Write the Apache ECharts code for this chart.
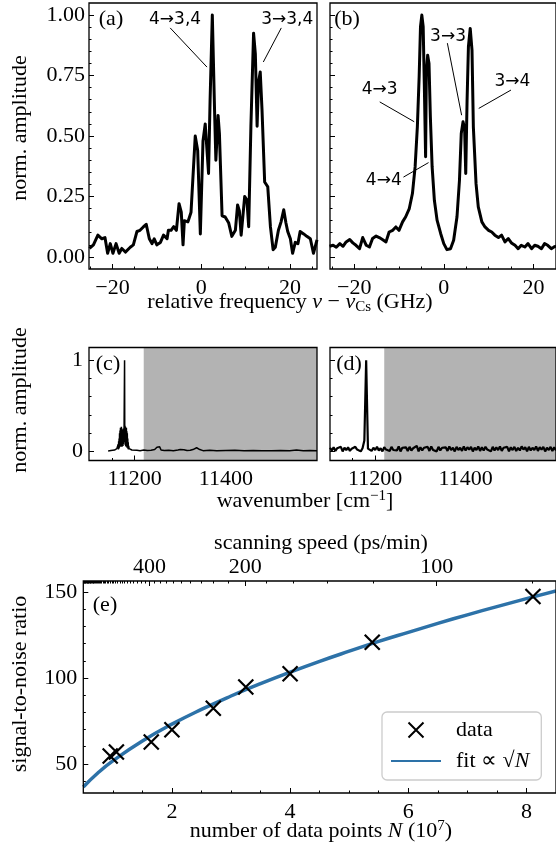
<!DOCTYPE html>
<html><head><meta charset="utf-8">
<script src="https://cdn.jsdelivr.net/npm/echarts@6/dist/echarts.min.js"></script>
<style>html,body{margin:0;padding:0;background:#fff}#c{width:556px;height:846px}</style>
</head><body><div id="c"></div>
<script>
// ---------------- data ----------------
// panel (a)
const freqA = [-25.2,-24.3,-23.3,-22.4,-21.7,-21.1,-20.5,-19.9,-19.2,-18.5,
  -17.9,-17.1,-16.0,-15.3,-14.5,-13.8,-13.0,-12.4,-11.7,-11.1,
  -10.6,-10.0,-9.2,-8.5,-7.7,-7.4,-6.8,-6.2,-5.6,-5.0,
  -4.5,-4.1,-3.8,-3.0,-2.3,-1.35,-0.8,-0.2,0.4,0.9,
  1.3,1.65,2.0,2.5,3.0,3.3,3.8,4.1,4.7,5.4,
  6.2,6.9,7.7,8.2,8.6,9.0,9.8,10.3,10.7,11.2,
  11.8,12.2,12.6,12.9,13.3,13.7,14.3,15.0,15.6,16.2,
  16.7,17.4,18.0,18.6,19.1,19.5,20.1,20.6,21.2,21.8,
  22.3,23.1,23.8,24.6,25.3,26.1];
const ampA = [0.035,0.05,0.09,0.075,0.08,0.015,0.055,0.015,0.055,0.015,
  0.035,0.02,0.04,0.05,0.105,0.11,0.125,0.135,0.075,0.055,
  0.075,0.05,0.06,0.09,0.075,0.11,0.11,0.125,0.11,0.22,
  0.185,0.05,0.15,0.145,0.185,0.50,0.44,0.095,0.48,0.55,
  0.545,0.345,0.65,1.00,0.61,0.40,0.585,0.51,0.17,0.165,
  0.14,0.085,0.11,0.215,0.19,0.09,0.25,0.235,0.125,0.54,
  0.925,0.84,0.54,0.72,0.765,0.61,0.31,0.29,0.125,0.03,
  0.04,0.11,0.145,0.195,0.14,0.105,0.075,0.015,0.06,0.055,
  0.105,0.095,0.085,0.075,0.015,0.07];
// panel (b)
const freqB = [-25.5,-24.7,-24.0,-23.2,-22.5,-21.8,-21.0,-20.3,-19.6,-18.8,
  -18.1,-17.3,-16.6,-15.9,-15.1,-14.4,-13.7,-12.9,-12.2,-11.4,
  -10.7,-10.0,-9.2,-8.5,-7.7,-7.0,-6.4,-5.9,-5.5,-5.2,
  -4.9,-4.6,-4.35,-4.06,-3.9,-3.6,-3.3,-3.0,-2.6,-2.1,
  -1.5,-0.7,0.0,0.7,1.5,2.2,2.95,3.5,3.9,4.3,
  4.65,4.9,5.2,5.5,5.9,6.3,6.6,7.2,7.7,8.5,
  9.2,10.0,10.7,11.4,12.2,12.9,13.65,14.4,15.1,15.9,
  16.6,17.3,18.1,18.8,19.6,20.3,21.0,21.8,22.5,23.2,
  24.0,24.6,25.1];
const ampB = [0.044,0.048,0.04,0.055,0.044,0.062,0.072,0.058,0.048,0.034,
  0.08,0.048,0.041,0.076,0.086,0.08,0.072,0.062,0.103,0.11,
  0.124,0.11,0.145,0.166,0.2,0.262,0.372,0.538,0.745,0.952,
  1.00,0.952,0.717,0.414,0.76,0.834,0.80,0.58,0.372,0.234,
  0.152,0.097,0.055,0.03,0.034,0.069,0.166,0.317,0.51,0.559,
  0.531,0.345,0.648,0.869,0.945,0.855,0.538,0.303,0.207,0.145,
  0.124,0.11,0.103,0.09,0.08,0.09,0.062,0.076,0.058,0.048,
  0.034,0.048,0.041,0.055,0.034,0.048,0.044,0.034,0.055,0.048,
  0.034,0.041,0.045];
// annotations (a), (b): text position, line start, line end (data coords)
const annALabels = ['4→3,4', '3→3,4'];
const annATextX = [-5.9, 19.4],  annATextY = [0.98, 0.98];
const annAFromX = [-7.0, 18.05], annAFromY = [0.947, 0.947];
const annAToX   = [1.3, 14.0],   annAToY   = [0.785, 0.806];
const annBLabels = ['4→3', '3→3', '3→4', '4→4'];
const annBTextX = [-14.3, 0.95, 15.3, -13.4], annBTextY = [0.69, 0.913, 0.723, 0.317];
const annBFromX = [-14.3, 0.8, 15.0, -9.0],   annBFromY = [0.641, 0.884, 0.69, 0.33];
const annBToX   = [-6.6, 3.98, 7.8, -3.4],    annBToY   = [0.559, 0.586, 0.614, 0.39];
// panel (c): [wavenumber, amplitude]
const spectrumC = [[11142,0.005],[11148,0.01],[11152,0.008],[11156,0.015],[11159,0.02],[11161,0.03],
  [11162,0.01],[11163,0.05],[11163.5,0.02],[11164,0.08],[11164.5,0.02],[11165,0.11],[11165.5,0.03],[11166,0.14],
  [11166.5,0.04],[11167,0.2],[11167.5,0.05],[11168,0.23],[11168.5,0.06],[11169,0.26],[11169.5,0.05],[11170,0.22],
  [11170.5,0.07],[11171,0.27],[11171.5,0.06],[11172,0.2],[11172.5,0.05],[11173,0.24],[11173.5,0.07],[11174,0.2],
  [11174.5,0.06],[11175,0.25],[11175.5,0.08],[11176,0.22],[11176.5,0.1],[11177,0.3],[11178,1.0],[11178.5,0.12],
  [11179,0.28],[11179.5,0.07],[11180,0.27],[11180.5,0.06],[11181,0.25],[11181.5,0.05],[11182,0.26],[11182.5,0.06],
  [11183,0.22],[11183.5,0.04],[11184,0.2],[11184.5,0.04],[11185,0.14],[11185.5,0.03],[11186,0.1],[11186.5,0.02],
  [11187,0.06],[11188,0.03],[11190,0.02],[11194,0.015],[11198,0.01],[11205,0.012],[11212,0.008],[11220,0.015],
  [11228,0.01],[11236,0.012],[11244,0.02],[11249,0.045],[11251,0.06],[11253,0.03],[11255,0.05],[11258,0.015],
  [11265,0.01],[11275,0.012],[11285,0.008],[11295,0.015],[11300,0.02],[11303,0.01],[11308,0.018],[11315,0.01],
  [11322,0.012],[11328,0.02],[11336,0.04],[11340,0.05],[11343,0.02],[11350,0.008],[11365,0.012],[11380,0.006],
  [11400,0.01],[11420,0.012],[11440,0.006],[11460,0.01],[11480,0.008],[11500,0.006],[11520,0.01],[11540,0.008],
  [11555,0.015],[11570,0.006],[11585,0.01],[11600,0.006]];
// panel (d): samples every wnD_step cm^-1 from wnD_start
const wnD_start = 11100, wnD_step = 4;
const ampD = [0.04,0.01,0.045,0.005,0.035,0.02,0.05,0.0,0.04,0.015,
  0.045,0.005,0.03,0.01,0.05,0.02,0.04,0.0,0.035,0.12,
  1.0,0.03,0.045,0.005,0.04,0.015,0.05,0.01,0.035,0.0,
  0.045,0.02,0.04,0.005,0.05,0.015,0.035,0.01,0.055,0.0,
  0.04,0.02,0.045,0.005,0.05,0.01,0.035,0.015,0.06,0.0,
  0.045,0.01,0.04,0.02,0.05,0.005,0.055,0.015,0.035,0.0,
  0.05,0.01,0.04,0.02,0.045,0.005,0.055,0.015,0.04,0.0,
  0.05,0.015,0.04,0.005,0.055,0.01,0.045,0.02,0.05,0.0,
  0.04,0.015,0.055,0.005,0.045,0.01,0.05,0.02,0.04,0.0,
  0.05,0.01,0.045,0.015,0.055,0.005,0.04,0.02,0.05,0.0,
  0.045,0.015,0.05,0.005,0.04,0.01,0.055,0.02,0.045,0.0,
  0.05,0.01,0.04,0.015,0.055,0.005,0.045,0.02,0.05,0.0,
  0.04,0.015,0.05,0.005,0.045,0.01];
const shadedRange = [11220, 11600];
// panel (e)
const dataN   = [0.955, 1.06, 1.65, 2.0, 2.70, 3.25, 4.0, 5.39, 8.11];
const dataSNR = [54.5, 56.9, 62.7, 69.8, 82.4, 94.7, 102.5, 120.8, 147.5];
const fitN   = [0.5,0.75,1,1.5,2,2.5,3,3.5,4,4.5,5,5.5,6,6.5,7,7.5,8,8.5];
const fitSNR = [36.5,44.8,51.7,63.3,73.1,81.7,89.5,96.7,103.4,109.7,115.6,121.3,126.6,131.8,136.8,141.6,146.2,150.7];
const speedFactor = 648; // N (1e7) x scanning speed (ps/min)
const speedMajor = [400, 200, 100];
const speedMinor = [80,120,140,160,180,220,240,260,280,300,320,340,360,380,420,440,460,480,500,520,540,560,580,600,
  620,640,660,680,700,720,740,760,780,800,820,840,860,880,900,920,940,960,980,1000,1020,1040,1060,1080,1100,
  1120,1140,1160,1180,1200,1220,1240,1260,1280];
// tick values
const ticksAX = [-20, 0, 20], minorAX = [-25,-15,-10,-5,5,10,15,25];
const ticksAY = [0, 0.25, 0.5, 0.75, 1.0];
const minorAY = [0.05,0.1,0.15,0.2,0.3,0.35,0.4,0.45,0.55,0.6,0.65,0.7,0.8,0.85,0.9,0.95];
const ticksCX = [11200, 11400], minorCX = [11150,11250,11300,11350,11450,11500,11550];
const ticksCY = [0, 1], minorCY = [0.2, 0.4, 0.6, 0.8];
const ticksEX = [2, 4, 6, 8], minorEX = [1,1.5,2.5,3,3.5,4.5,5,5.5,6.5,7,7.5];
const ticksEY = [50, 100, 150], minorEY = [40,60,70,80,90,110,120,130,140];

// ---------------- chart ----------------
const FONT = '"Liberation Serif", "Times New Roman", serif';
const SANS = '"DejaVu Sans", sans-serif';
const FS = 22;
const BLUE = '#2d72a8';
const minus = v => String(v).replace('-', '\u2212');

function axisPair(grid, min, max, major, minor, fmt, position, margin) {
  const base = {type: 'value', gridIndex: grid, min: min, max: max, position: position,
    splitLine: {show: false}, axisLine: {show: false, onZero: false}};
  const maj = Object.assign({}, base, {
    axisTick: {show: true, inside: true, length: 5, customValues: major, lineStyle: {color: '#000', width: 1}},
    axisLabel: {show: !!fmt, customValues: major, formatter: fmt || undefined, margin: margin || 7,
      color: '#000', fontFamily: FONT, fontSize: FS}
  });
  const mnr = Object.assign({}, base, {
    axisTick: {show: true, inside: true, length: 2.5, customValues: minor, lineStyle: {color: '#000', width: 1}},
    axisLabel: {show: false}
  });
  return [maj, mnr];
}

const gridStyle = {show: true, borderColor: '#000', borderWidth: 1.3, backgroundColor: 'transparent', z: 5};
const grids = [
  Object.assign({left: 89, top: 3, width: 228, height: 266}, gridStyle),
  Object.assign({left: 330, top: 3, width: 228, height: 266}, gridStyle),
  Object.assign({left: 89, top: 347.5, width: 228, height: 113}, gridStyle),
  Object.assign({left: 330, top: 347.5, width: 228, height: 113}, gridStyle),
  Object.assign({left: 83.3, top: 581, width: 475.7, height: 212}, gridStyle)
];

const topMajor = speedMajor.map(s => speedFactor / s);
const topMinor = speedMinor.map(s => speedFactor / s).filter(n => n > 0.5 && n < 8.5);

const xAxes = [].concat(
  axisPair(0, -25.3, 26.1, ticksAX, minorAX, minus, 'bottom', 8),
  axisPair(1, -25.4, 25.05, ticksAX, minorAX, minus, 'bottom', 8),
  axisPair(2, 11100, 11600, ticksCX, minorCX, v => String(v), 'bottom', 8),
  axisPair(3, 11100, 11600, ticksCX, minorCX, v => String(v), 'bottom', 8),
  axisPair(4, 0.5, 8.5, ticksEX, minorEX, v => String(v), 'bottom', 8),
  axisPair(4, 0.5, 8.5, topMajor, topMinor, v => String(Math.round(speedFactor / v)), 'top', 3)
);
const yAxes = [].concat(
  axisPair(0, -0.05, 1.05, ticksAY, minorAY, v => v.toFixed(2), 'left', 4),
  axisPair(1, -0.05, 1.05, ticksAY, minorAY, null, 'left'),
  axisPair(2, -0.1, 1.14, ticksCY, minorCY, v => String(v), 'left', 6),
  axisPair(3, -0.1, 1.14, ticksCY, minorCY, null, 'left'),
  axisPair(4, 33, 156.5, ticksEY, minorEY, v => String(v), 'left', 6)
);

function annotSeries(xi, yi, labels, tx, ty, fx, fy, ex, ey) {
  return {
    type: 'custom', xAxisIndex: xi, yAxisIndex: yi, silent: true, z: 6, clip: false,
    data: labels.map((l, i) => [tx[i], ty[i], fx[i], fy[i], ex[i], ey[i]]),
    renderItem: function (params, api) {
      const t = api.coord([api.value(0), api.value(1)]);
      const s = api.coord([api.value(2), api.value(3)]);
      const e = api.coord([api.value(4), api.value(5)]);
      return {type: 'group', children: [
        {type: 'line', shape: {x1: s[0], y1: s[1], x2: e[0], y2: e[1]}, style: {stroke: '#000', lineWidth: 1}},
        {type: 'text', x: t[0], y: t[1], style: {text: labels[params.dataIndex], fill: '#000',
          font: '17px ' + SANS, align: 'center', verticalAlign: 'middle',
          textAlign: 'center', textVerticalAlign: 'middle'}}
      ]};
    }
  };
}

const fitName = 'fit ∝ √N';
const txt = (x, y, text, extra) => Object.assign({type: 'text', x: x, y: y, z: 10,
  style: Object.assign({text: text, fill: '#000', font: FS + 'px ' + FONT, align: 'center', verticalAlign: 'middle',
    textAlign: 'center', textVerticalAlign: 'middle'}, (extra && extra.style) || {})},
  extra && extra.rotation !== undefined ? {rotation: extra.rotation} : {});
const richBase = {
  r: {fontFamily: FONT, fontSize: FS, fill: '#000'},
  i: {fontFamily: FONT, fontSize: FS, fontStyle: 'italic', fill: '#000'},
  sub: {fontFamily: FONT, fontSize: 15, fill: '#000', padding: [10, 0, 0, 0]},
  sup: {fontFamily: FONT, fontSize: 15, fill: '#000', padding: [0, 0, 10, 0]}
};

const option = {
  animation: false,
  backgroundColor: '#fff',
  grid: grids,
  xAxis: xAxes,
  yAxis: yAxes,
  legend: {
    left: 382, top: 712, orient: 'vertical', itemWidth: 50, itemHeight: 15, itemGap: 9,
    padding: [7, 12, 8, 8], backgroundColor: 'rgba(255,255,255,0.8)', borderColor: '#cccccc',
    borderWidth: 1.3, borderRadius: 5, selectedMode: false,
    data: [{name: 'data'}, {name: fitName, itemStyle: {opacity: 0}}],
    formatter: name => name === fitName ? '{r|fit ∝ }{r|√}{i|N}' : '{r|data}',
    textStyle: {fontFamily: FONT, fontSize: FS, color: '#000', padding: [0, 0, 0, 10],
      rich: {r: {fontFamily: FONT, fontSize: FS, color: '#000'}, i: {fontFamily: FONT, fontSize: FS, fontStyle: 'italic', color: '#000'}}}
  },
  series: [
    {type: 'line', name: 'a', xAxisIndex: 0, yAxisIndex: 0, showSymbol: false, symbol: 'none',
      data: freqA.map((f, i) => [f, ampA[i]]), lineStyle: {color: '#000', width: 3, join: 'round'}, z: 3},
    {type: 'line', name: 'b', xAxisIndex: 2, yAxisIndex: 2, showSymbol: false, symbol: 'none',
      data: freqB.map((f, i) => [f, ampB[i]]), lineStyle: {color: '#000', width: 3, join: 'round'}, z: 3},
    {type: 'line', name: 'c', xAxisIndex: 4, yAxisIndex: 4, showSymbol: false, symbol: 'none',
      data: spectrumC, lineStyle: {color: '#000', width: 1.5}, z: 3,
      markArea: {silent: true, itemStyle: {color: '#b3b3b3', opacity: 1},
        data: [[{xAxis: shadedRange[0]}, {xAxis: shadedRange[1]}]]}},
    {type: 'line', name: 'd', xAxisIndex: 6, yAxisIndex: 6, showSymbol: false, symbol: 'none',
      data: ampD.map((a, i) => [wnD_start + i * wnD_step, a]), lineStyle: {color: '#000', width: 2.2}, z: 3,
      markArea: {silent: true, itemStyle: {color: '#b3b3b3', opacity: 1},
        data: [[{xAxis: shadedRange[0]}, {xAxis: shadedRange[1]}]]}},
    {type: 'line', name: fitName, xAxisIndex: 8, yAxisIndex: 8, symbol: 'none', smooth: true,
      data: fitN.map((n, i) => [n, fitSNR[i]]), lineStyle: {color: BLUE, width: 3.5}, itemStyle: {color: BLUE}, z: 3},
    {type: 'scatter', name: 'data', xAxisIndex: 8, yAxisIndex: 8,
      symbol: 'path://M0,0L10,10M10,0L0,10', symbolSize: 15,
      itemStyle: {color: 'rgba(0,0,0,0)', borderColor: '#000', borderWidth: 2.2, opacity: 1},
      data: dataN.map((n, i) => [n, dataSNR[i]]), z: 4},
    annotSeries(0, 0, annALabels, annATextX, annATextY, annAFromX, annAFromY, annAToX, annAToY),
    annotSeries(2, 2, annBLabels, annBTextX, annBTextY, annBFromX, annBFromY, annBToX, annBToY)
  ],
  graphic: [
    txt(111, 19, '(a)'),
    txt(347, 19, '(b)'),
    txt(108, 364, '(c)'),
    txt(349, 364, '(d)'),
    txt(105, 605, '(e)'),
    txt(20, 128, 'norm. amplitude', {rotation: Math.PI / 2}),
    txt(20, 400, 'norm. amplitude', {rotation: Math.PI / 2}),
    txt(20, 684, 'signal-to-noise ratio', {rotation: Math.PI / 2}),
    txt(290, 302, '', {style: {text: '{r|relative frequency }{i|ν}{r| − }{i|ν}{sub|Cs}{r| (GHz)}', rich: richBase}}),
    txt(305, 501, '', {style: {text: '{r|wavenumber [cm}{sup|−1}{r|]}', rich: richBase}}),
    txt(321, 543, 'scanning speed (ps/min)'),
    txt(321, 831, '', {style: {text: '{r|number of data points }{i|N}{r| (10}{sup|7}{r|)}', rich: richBase}})
  ]
};

const chart = echarts.init(document.getElementById('c'), null, {renderer: 'canvas'});
chart.setOption(option);
</script>
</body></html>
